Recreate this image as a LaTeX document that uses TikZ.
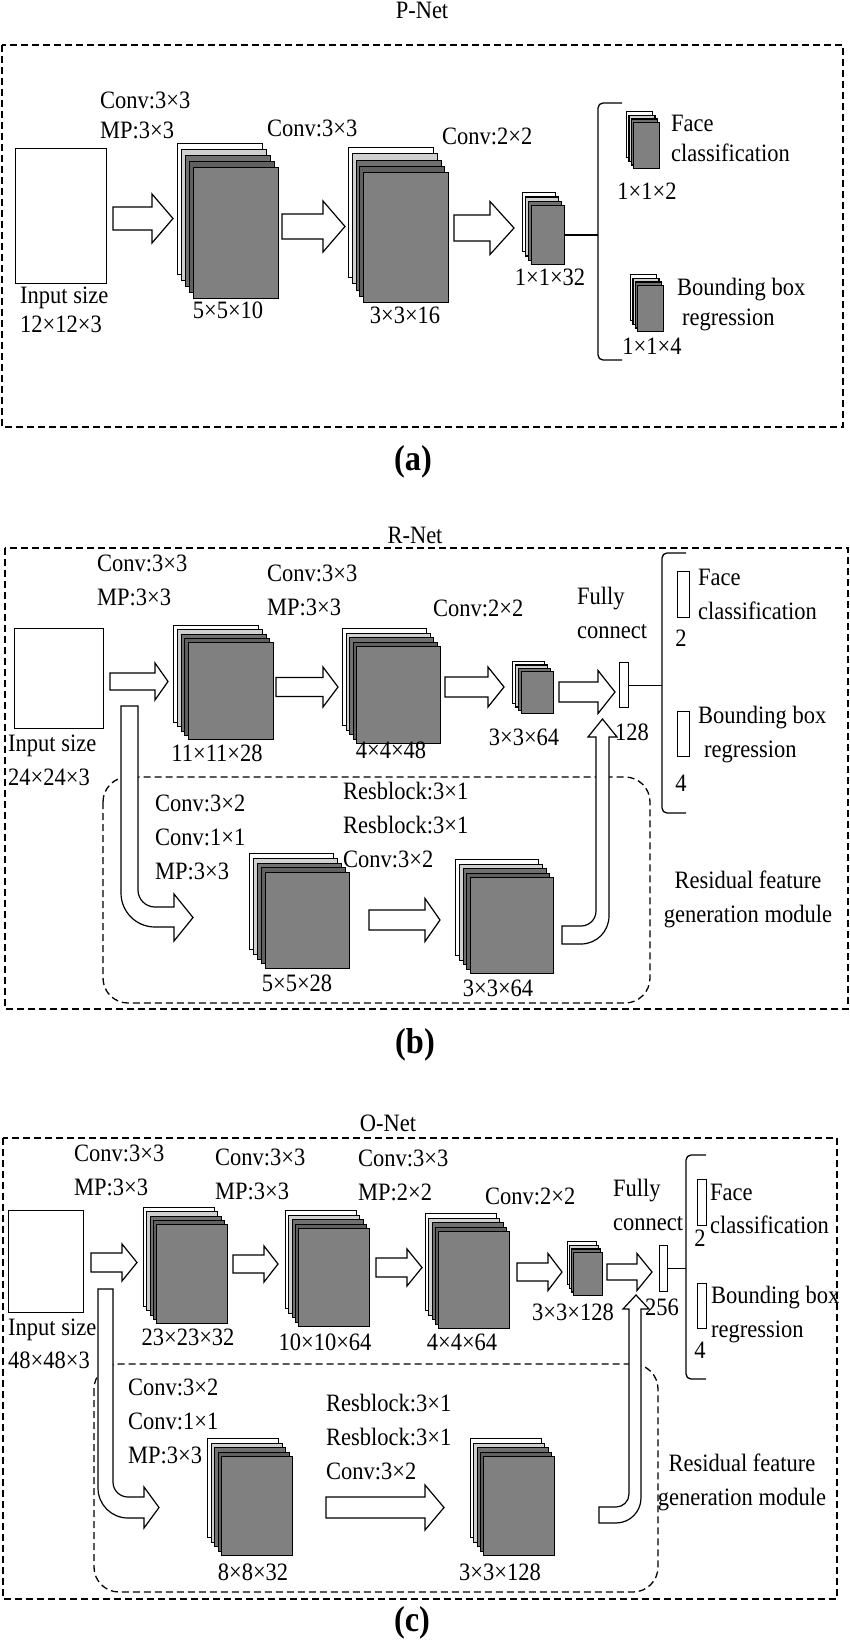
\documentclass[tikz,border=0pt]{standalone}
\usepackage{fontspec}
\setmainfont{Liberation Serif}[FakeStretch=0.9]
\usetikzlibrary{calc}
\definecolor{layB}{HTML}{D0D0D0}
\definecolor{layC}{HTML}{707070}
\definecolor{layD}{HTML}{606060}
\definecolor{layF}{HTML}{808080}
\tikzstyle{outer}=[draw,line width=1.8pt,dash pattern=on 7pt off 4pt]
\tikzstyle{module}=[draw,line width=1.3pt,dash pattern=on 7pt off 4pt,rounded corners=25pt]
\tikzstyle{fmlayer}=[draw,line width=1.2pt,inner sep=0pt,anchor=north west]
\tikzstyle{plain}=[draw,fill=white,line width=1.3pt,inner sep=0pt,anchor=north west]
\tikzstyle{blk}=[draw,fill=white,line width=1.2pt,line join=miter]
\tikzstyle{brk}=[line width=1.3pt]
\tikzstyle{txt}=[inner sep=0pt,font=\fontsize{25}{34}\selectfont]
\tikzstyle{txtl}=[txt,anchor=west,align=left]
\tikzstyle{tag}=[inner sep=0pt,font=\fontsize{36}{40}\selectfont\bfseries]
\def\fivelay{4/white,3/layB,2/layC,1/layD}
\def\fourlay{3/white,2/layB,1/layC}
% feature map stack: name, front x, front y, w, h, back layers, dx, dy
\newcommand\fmap[8]{%
  \foreach \k/\c in #6 {
    \node[fmlayer,fill=\c,minimum width=#4pt,minimum height=#5pt] (#1-\k) at ({#2-\k*#7},{#3-\k*#8}) {};
  }
  \node[fmlayer,fill=layF,minimum width=#4pt,minimum height=#5pt] (#1) at (#2,#3) {};
}
% block arrow: x start, x tip, y, half shaft, half head, head length
\newcommand\harrow[6]{%
  \draw[blk] (#1,#3-#4) -- (#2-#6,#3-#4) -- (#2-#6,#3-#5) -- (#2,#3) -- (#2-#6,#3+#5) -- (#2-#6,#3+#4) -- (#1,#3+#4) -- cycle;
}

\begin{document}
\begin{tikzpicture}[x=1pt,y=-1pt]
	\useasboundingbox (0,0) rectangle (850,1651);

	% (a) P-Net
	\draw[outer] (2,45) rectangle (843,427);
	\node[txt] (ptitle) at (422,10) {P-Net};
	\node[plain,minimum width=91pt,minimum height=135pt] (pin) at (15,148) {};
	\node[txtl,font=\fontsize{25}{29}\selectfont] (pinl) at (20,309.5) {Input size\\12×12×3};
	\harrow{113}{173}{218.5}{11.5}{24.5}{21}
	\fmap{ps1}{193}{167}{85}{131}{\fivelay}{4}{6}
	\node[txtl,font=\fontsize{25}{30}\selectfont] (pc1) at (100,115) {Conv:3×3\\MP:3×3};
	\node[txt] (ps1l) at (228,310) {5×5×10};
	\harrow{282}{345}{226.5}{12.5}{25.5}{22}
	\fmap{ps2}{363}{172}{85}{130}{\fivelay}{3.75}{6.25}
	\node[txtl] (pc2) at (267,128) {Conv:3×3};
	\node[txt] (ps2l) at (405,315) {3×3×16};
	\harrow{454}{514}{228}{13}{26.5}{24}
	\fmap{ps3}{531}{205}{33}{59}{\fourlay}{3}{4.33}
	\node[txtl] (pc3) at (442,136) {Conv:2×2};
	\node[txt] (ps3l) at (550,277) {1×1×32};
	\coordinate (pbrk) at (598,232);
	\draw[brk,rounded corners=5pt] (622,103) -- (598,103) -- (598,360) -- (622,360);
	\draw[brk] (ps3.east) -- (ps3.east -| pbrk);
	\fmap{pf}{633}{122}{26}{46}{\fourlay}{2.33}{3.67}
	\node[txtl,font=\fontsize{25}{30}\selectfont] (pfl) at (671,138) {Face\\classification};
	\node[txt] (pfn) at (647,191) {1×1×2};
	\fmap{pb}{637}{285}{26}{46}{\fourlay}{2.33}{3.67}
	\node[txtl,font=\fontsize{25}{30}\selectfont] (pbl) at (677,305) {Bounding box\\\hspace*{5pt}regression};
	\node[txt] (pbn) at (652,346) {1×1×4};
	\node[tag] (pa) at (413,462) {(a)};

	% (b) R-Net
	\draw[outer] (5,548) rectangle (848,1009);
	\draw[module] (103,777) rectangle (650,1003);
	\node[txt] (rtitle) at (415,535) {R-Net};
	\node[plain,minimum width=89pt,minimum height=100pt] (rin) at (14,628) {};
	\node[txtl] (rinl) at (8,760) {Input size\\24×24×3};
	\node[txtl] (rc1) at (97,580.5) {Conv:3×3\\MP:3×3};
	\harrow{110}{168}{681.5}{8.5}{18.5}{13}
	\fmap{rs1}{188}{642}{85}{97}{\fivelay}{3.75}{4.25}
	\node[txt] (rs1l) at (217,753) {11×11×28};
	\node[txtl] (rc2) at (267,590.5) {Conv:3×3\\MP:3×3};
	\harrow{276}{338}{687}{9.5}{20}{15}
	\fmap{rs2}{356}{646}{84}{97}{\fivelay}{3.5}{4.5}
	\node[txt] (rs2l) at (391,750) {4×4×48};
	\node[txtl] (rc3) at (433,608) {Conv:2×2};
	\harrow{445}{504}{687}{10}{20}{16}
	\fmap{rs3}{521}{671}{32}{42}{\fourlay}{3}{3.33}
	\node[txt] (rs3l) at (524,737) {3×3×64};
	\node[txtl] (rfcl) at (577,613) {Fully\\connect};
	\harrow{559}{615}{692}{10}{21.5}{17}
	\node[plain,minimum width=9pt,minimum height=45pt] (rfc) at (619,662) {};
	\node[txt] (rfcn) at (632,732) {128};
	\coordinate (rbrk) at (662,684);
	\draw[brk,rounded corners=5pt] (686,553) -- (662,553) -- (662,813) -- (686,813);
	\draw[brk] (rfc.east) -- (rfc.east -| rbrk);
	\node[plain,minimum width=12pt,minimum height=46pt] (rf) at (677,571) {};
	\node[txtl] (rfl) at (698,594.5) {Face\\classification};
	\node[txt] (rfn) at (681,638) {2};
	\node[plain,minimum width=12pt,minimum height=45pt] (rb) at (677,711) {};
	\node[txtl] (rbl) at (698,734.5) {Bounding box\\\hspace*{6pt}regression};
	\node[txt] (rbn) at (681,783) {4};
	\draw[blk] (121,706) -- (138,706) -- (138,890) .. controls (138,899.4) and (145.6,907) .. (155,907) -- (174,907) -- (174,894) -- (193,917.5) -- (174,941) -- (174,927) -- (155,927) .. controls (136.2,927) and (121,911.8) .. (121,893) -- cycle;
	\node[txtl] (rc4) at (155,837) {Conv:3×2\\Conv:1×1\\MP:3×3};
	\fmap{rs4}{265}{872}{84}{96}{\fivelay}{4}{4.75}
	\node[txt] (rs4l) at (297,983) {5×5×28};
	\node[txtl] (rc5) at (343,825) {Resblock:3×1\\Resblock:3×1\\Conv:3×2};
	\harrow{369}{440}{920}{10}{21.5}{15}
	\fmap{rs5}{470}{877}{83}{96}{\fivelay}{3.75}{4.5}
	\node[txt] (rs5l) at (498,988) {3×3×64};
	\draw[blk] (562,926) -- (581,926) .. controls (589.3,926) and (596,919.3) .. (596,911) -- (596,737) -- (588,737) -- (602.5,719) -- (617,737) -- (609,737) -- (609,916) .. controls (609,931.5) and (596.5,944) .. (581,944) -- (562,944) -- cycle;
	\node[txt,align=center] (rres) at (748,899.5) {Residual feature\\generation module};
	\node[tag] (pb) at (415,1045) {(b)};

	% (c) O-Net
	\draw[outer] (3,1138) rectangle (837,1599);
	\draw[module] (94,1364) rectangle (658,1592);
	\node[txt] (otitle) at (388,1123) {O-Net};
	\node[plain,minimum width=75pt,minimum height=102pt] (oin) at (8,1210) {};
	\node[txtl,font=\fontsize{25}{33}\selectfont] (oinl) at (8,1343.5) {Input size\\48×48×3};
	\node[txtl] (oc1) at (74,1170.5) {Conv:3×3\\MP:3×3};
	\harrow{91}{137}{1262.5}{9.5}{18.5}{15}
	\fmap{os1}{156}{1224}{71}{99}{\fivelay}{3.25}{4.25}
	\node[txt] (os1l) at (188,1337) {23×23×32};
	\node[txtl] (oc2) at (215,1174.5) {Conv:3×3\\MP:3×3};
	\harrow{233}{278}{1264}{9}{18}{14}
	\fmap{os2}{298}{1228}{71}{98}{\fivelay}{3.25}{4.5}
	\node[txt] (os2l) at (325,1342) {10×10×64};
	\node[txtl] (oc3) at (358,1175.5) {Conv:3×3\\MP:2×2};
	\harrow{376}{422}{1267.5}{9.5}{18.5}{15}
	\fmap{os3}{438}{1231}{71}{97}{\fivelay}{3.25}{4.5}
	\node[txt] (os3l) at (462,1342) {4×4×64};
	\node[txtl] (oc4) at (485,1196) {Conv:2×2};
	\harrow{517}{562}{1272}{9}{18.5}{14}
	\fmap{os4}{573}{1252}{29}{43}{\fourlay}{2}{3.67}
	\node[txt] (os4l) at (573,1312) {3×3×128};
	\node[txtl] (ofcl) at (613,1205) {Fully\\connect};
	\harrow{607}{652}{1272}{8}{18.5}{15}
	\node[plain,minimum width=8pt,minimum height=46pt] (ofc) at (659,1245) {};
	\node[txt] (ofcn) at (662,1307) {256};
	\coordinate (obrk) at (686,1268);
	\draw[brk,rounded corners=5pt] (706,1155) -- (686,1155) -- (686,1379) -- (706,1379);
	\draw[brk] (ofc.east) -- (ofc.east -| obrk);
	\node[plain,minimum width=9pt,minimum height=46pt] (of) at (697,1179) {};
	\node[txtl,font=\fontsize{25}{33}\selectfont] (ofl) at (710,1208.5) {Face\\classification};
	\node[txt] (ofn) at (700,1238) {2};
	\node[plain,minimum width=9pt,minimum height=45pt] (ob) at (697,1283) {};
	\node[txtl] (obl) at (711,1314.5) {Bounding box\\regression};
	\node[txt] (obn) at (700,1350) {4};
	\draw[blk] (98,1289) -- (113,1289) -- (113,1482) .. controls (113,1490.3) and (119.7,1497) .. (128,1497) -- (144,1497) -- (144,1487) -- (159,1507.5) -- (144,1528) -- (144,1518) -- (128,1518) .. controls (111.4,1518) and (98,1504.6) .. (98,1488) -- cycle;
	\node[txtl] (oc5) at (128,1421) {Conv:3×2\\Conv:1×1\\MP:3×3};
	\fmap{os5}{221}{1456}{71}{99}{\fivelay}{3.5}{4.5}
	\node[txt] (os5l) at (253,1572) {8×8×32};
	\node[txtl] (oc6) at (326,1437) {Resblock:3×1\\Resblock:3×1\\Conv:3×2};
	\harrow{326}{444}{1507.5}{10.5}{22.5}{19}
	\fmap{os6}{483}{1456}{71}{99}{\fivelay}{3.25}{4.5}
	\node[txt] (os6l) at (500,1572) {3×3×128};
	\draw[blk] (599,1507) -- (616,1507) .. controls (623.2,1507) and (629,1501.2) .. (629,1494) -- (629,1309) -- (623,1309) -- (636,1295) -- (649,1309) -- (641,1309) -- (641,1498) .. controls (641,1511.8) and (629.8,1523) .. (616,1523) -- (599,1523) -- cycle;
	\node[txt,align=center] (ores) at (742,1482.5) {Residual feature\\generation module};
	\node[tag] (pc) at (412,1623) {(c)};
\end{tikzpicture}
\end{document}
